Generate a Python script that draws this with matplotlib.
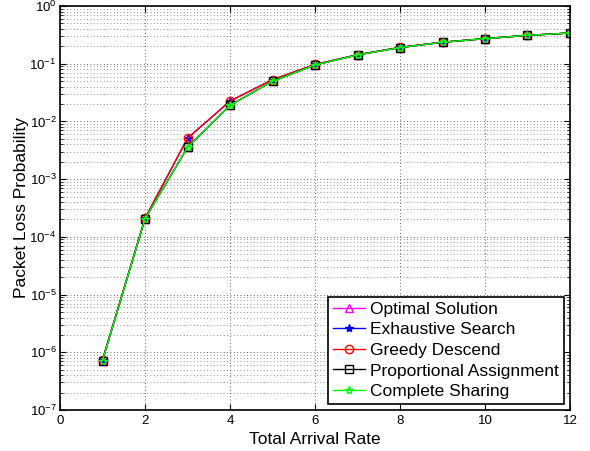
import matplotlib
matplotlib.use("Agg")
import matplotlib.pyplot as plt
from matplotlib.ticker import LogLocator

plt.rcParams['font.family'] = ['Liberation Sans', 'DejaVu Sans']
plt.rcParams['mathtext.fontset'] = 'custom'
plt.rcParams['mathtext.rm'] = 'Liberation Sans'
plt.rcParams['mathtext.it'] = 'Liberation Sans:italic'

arrival_rate = [1, 2, 3, 4, 5, 6, 7, 8, 9, 10, 11, 12]
upper_loss = [7.4e-7, 2.1e-4, 5.1e-3, 2.25e-2, 5.3e-2, 0.097, 0.143, 0.192, 0.236, 0.272, 0.31, 0.34]
lower_loss = [7.2e-7, 2.05e-4, 3.55e-3, 1.9e-2, 4.95e-2, 0.095, 0.142, 0.19, 0.235, 0.272, 0.31, 0.34]

optimal = lower_loss
exhaustive = upper_loss
greedy = upper_loss
proportional = lower_loss
complete = lower_loss

series = [
    ("Optimal Solution", optimal, (1, 0, 1), '^', 'none'),
    ("Exhaustive Search", exhaustive, (0, 0, 1), '*', None),
    ("Greedy Descend", greedy, (1, 0, 0), 'o', 'none'),
    ("Proportional Assignment", proportional, (0, 0, 0), 's', 'none'),
    ("Complete Sharing", complete, (0, 1, 0), '*', 'none'),
]

fig = plt.figure(figsize=(5.9, 4.51), dpi=100)
ax = fig.add_axes([0.1017, 0.0909, 0.8644, 0.8958])

for label, vals, col, mk, mfc in series:
    kw = dict(color=col, marker=mk, markersize=6, linewidth=1.0, label=label,
              markeredgewidth=1.0)
    if mfc is not None:
        kw['markerfacecolor'] = mfc
    ax.plot(arrival_rate, vals, **kw)

ax.set_yscale('log')
ax.set_xlim(0, 12)
ax.set_ylim(1e-7, 1)
ax.set_xticks([0, 2, 4, 6, 8, 10, 12])
ax.yaxis.set_major_locator(LogLocator(base=10, numticks=20))
ax.yaxis.set_minor_locator(LogLocator(base=10, subs=range(2, 10), numticks=20))

ax.tick_params(which='both', direction='in', top=True, right=True, labelsize=9.5)
ax.tick_params(axis='y', which='major', pad=2.5)
ax.tick_params(which='major', length=4, width=0.8)
ax.tick_params(which='minor', length=2, width=0.6)
ax.tick_params(axis='x', which='minor', bottom=False, top=False)

ax.grid(True, which='major', linestyle=(0, (1, 3)), color='black', linewidth=0.6, alpha=0.8)
ax.grid(True, axis='y', which='minor', linestyle=(0, (1, 3)), color='black', linewidth=0.6, alpha=0.55)
for s in ax.spines.values():
    s.set_linewidth(1.2)

ax.set_xlabel("Total Arrival Rate", fontsize=12.5, labelpad=4)
ax.set_ylabel("Packet Loss Probability", fontsize=12.5)
ax.yaxis.set_label_coords(-0.06, 0.5)

leg = ax.legend(loc='lower right', fontsize=12.5, frameon=True, fancybox=False,
                edgecolor='black', framealpha=1, borderaxespad=0.33,
                handlelength=1.85, handletextpad=0.3, labelspacing=0.31,
                borderpad=0.3)
leg.get_frame().set_linewidth(1.2)

fig.savefig("out.png", dpi=100)
